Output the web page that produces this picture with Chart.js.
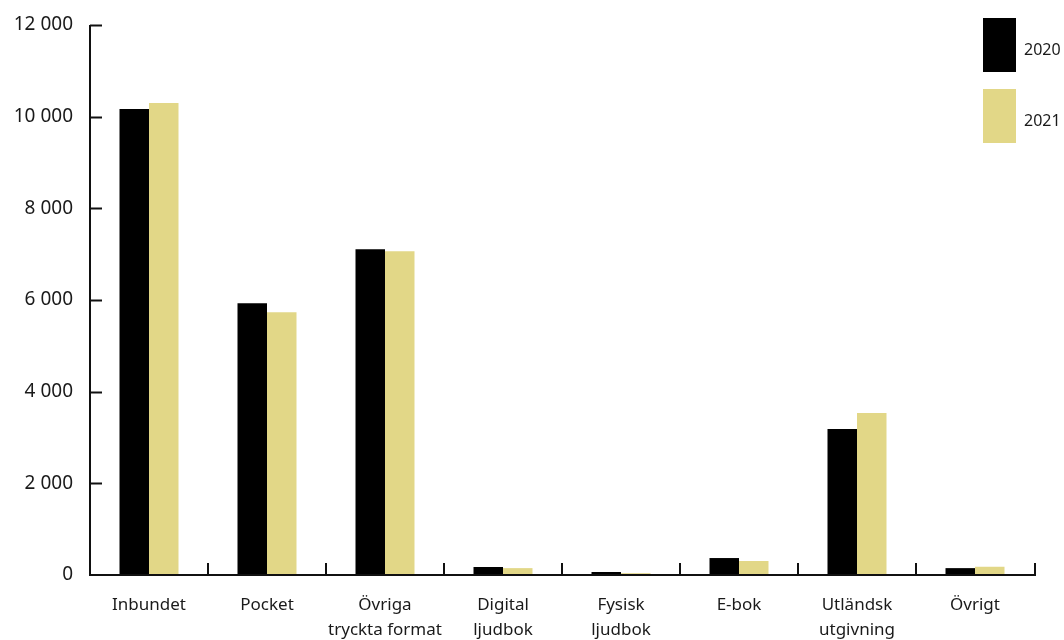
<!DOCTYPE html>
<html lang="sv">
<head>
<meta charset="utf-8">
<script src="https://cdn.jsdelivr.net/npm/chart.js@4"></script>
<style>
    html, body { margin: 0; padding: 0; background: #fff; }
    #wrap { position: relative; width: 1064px; height: 640px; }
</style>
</head>
<body>
<div id="wrap"><canvas id="chart" width="1064" height="640"></canvas></div>
<script>
// Kategorier och värden
const categories = [
    "Inbundet",
    "Pocket",
    ["Övriga", "tryckta format"],
    ["Digital", "ljudbok"],
    ["Fysisk", "ljudbok"],
    "E-bok",
    ["Utländsk", "utgivning"],
    "Övrigt",
];
const values2020 = [10170, 5930, 7110, 175, 65, 370, 3185, 150];
const values2021 = [10300, 5735, 7065, 150, 40, 305, 3535, 180];
const yTicks = [0, 2000, 4000, 6000, 8000, 10000, 12000];

const FONT = "'Noto Sans', 'Open Sans', sans-serif";
const TEXT = "#1a1a1a";

// Egna axellinjer, tickmarkeringar och legend
const axesPlugin = {
    id: "axesPlugin",
    afterDraw(chart) {
        const { ctx, chartArea, scales } = chart;
        const x = scales.x, y = scales.y;
        const y0 = y.getPixelForValue(0);
        ctx.save();
        ctx.strokeStyle = "#111";
        ctx.lineWidth = 2;
        ctx.beginPath();
        ctx.moveTo(chartArea.left, y.getPixelForValue(12000));
        ctx.lineTo(chartArea.left, y0);
        ctx.lineTo(chartArea.right + 2, y0);
        ctx.stroke();
        // y-ticks inåt
        yTicks.forEach((v) => {
            if (v === 0) return;
            const py = Math.round(y.getPixelForValue(v)) + 0.5;
            ctx.beginPath();
            ctx.moveTo(chartArea.left, py);
            ctx.lineTo(chartArea.left + 12, py);
            ctx.stroke();
        });
        // x-ticks på kategorigränser
        const n = categories.length;
        for (let i = 1; i <= n; i++) {
            const px = (x.getPixelForValue(i - 1) + x.getPixelForValue(Math.min(i, n - 1))) / 2;
            const bx = i === n ? chartArea.right + 1 : px;
            ctx.beginPath();
            ctx.moveTo(bx, y0);
            ctx.lineTo(bx, y0 - 12);
            ctx.stroke();
        }
        // legend
        ctx.font = "16px " + FONT;
        ctx.textBaseline = "middle";
        chart.data.datasets.forEach((ds, i) => {
            const top = 18 + i * 71;
            ctx.fillStyle = ds.backgroundColor;
            ctx.fillRect(983, top, 33, 54);
            ctx.fillStyle = TEXT;
            ctx.fillText(ds.label, 1024, top + 32);
        });
        ctx.restore();
    },
};

const ctx = document.getElementById("chart").getContext("2d");
new Chart(ctx, {
    type: "bar",
    data: {
        labels: categories,
        datasets: [
            { label: "2020", data: values2020, backgroundColor: "#000000" },
            { label: "2021", data: values2021, backgroundColor: "#e2d787" },
        ],
    },
    options: {
        responsive: false,
        animation: false,
        layout: { padding: { top: 25, right: 30, left: 0, bottom: 0 } },
        datasets: {
            bar: { categoryPercentage: 0.5, barPercentage: 1.0 },
        },
        plugins: {
            legend: { display: false },
            tooltip: { enabled: false },
        },
        scales: {
            x: {
                grid: { display: false },
                border: { display: false },
                ticks: {
                    color: TEXT,
                    font: { family: FONT, size: 17, lineHeight: "25px" },
                    padding: 10,
                    maxRotation: 0,
                    autoSkip: false,
                },
                afterFit(scale) {
                    scale.height = 65;
                    scale.paddingLeft = 0;
                    scale.paddingRight = 0;
                },
            },
            y: {
                min: 0,
                max: 12000,
                grid: { display: false },
                border: { display: false },
                afterBuildTicks(scale) {
                    scale.ticks = yTicks.map((v) => ({ value: v }));
                },
                ticks: {
                    color: TEXT,
                    font: { family: FONT, size: 19 },
                    padding: 9,
                    callback: (v) => String(v).replace(/\B(?=(\d{3})+(?!\d))/g, " "),
                },
                afterFit(scale) {
                    scale.width = 90;
                    scale.paddingTop = 0;
                    scale.paddingBottom = 0;
                },
            },
        },
    },
    plugins: [axesPlugin],
});
</script>
</body>
</html>
